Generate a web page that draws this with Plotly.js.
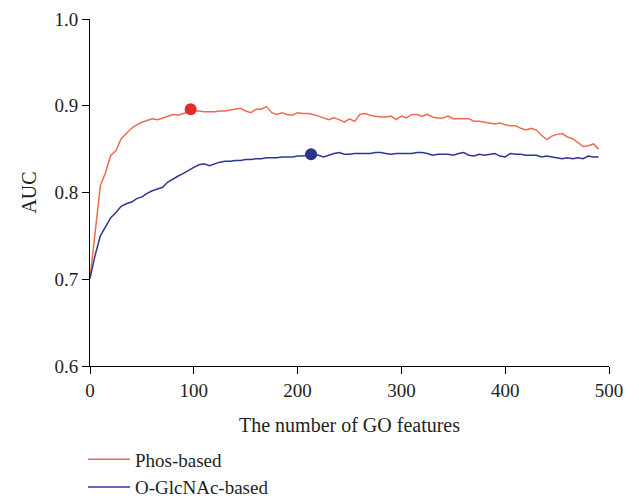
<!DOCTYPE html>
<html>
<head>
<meta charset="utf-8">
<script src="https://cdn.plot.ly/plotly-3.0.1.min.js"></script>
<style>html,body{margin:0;padding:0;background:#fff;}#chart{width:639px;height:500px;}</style>
</head>
<body>
<div id="chart"></div>
<script>
// Number of GO features (x), step 5
const features = [0,5,10,15,20,25,30,35,40,45,50,55,60,65,70,75,80,85,90,95,
  100,105,110,115,120,125,130,135,140,145,150,155,160,165,170,175,180,185,190,195,
  200,205,210,215,220,225,230,235,240,245,250,255,260,265,270,275,280,285,290,295,
  300,305,310,315,320,325,330,335,340,345,350,355,360,365,370,375,380,385,390,395,
  400,405,410,415,420,425,430,435,440,445,450,455,460,465,470,475,480,485,490];

const phosAUC = [0.701,0.758,0.808,0.823,0.843,0.848,0.862,0.868,0.874,0.878,0.881,0.883,0.885,0.884,0.886,0.888,0.890,0.889,0.891,0.894,
  0.894,0.894,0.893,0.893,0.893,0.894,0.894,0.895,0.896,0.897,0.894,0.892,0.896,0.896,0.899,0.892,0.890,0.892,0.890,0.889,
  0.892,0.891,0.891,0.890,0.888,0.886,0.884,0.886,0.884,0.881,0.885,0.882,0.890,0.891,0.889,0.888,0.887,0.887,0.888,0.884,
  0.888,0.886,0.890,0.890,0.888,0.890,0.887,0.886,0.886,0.888,0.885,0.885,0.885,0.885,0.882,0.882,0.881,0.880,0.879,0.880,
  0.878,0.877,0.877,0.874,0.872,0.874,0.872,0.866,0.861,0.865,0.867,0.868,0.864,0.862,0.858,0.853,0.854,0.856,0.850];

const glcAUC = [0.701,0.728,0.750,0.760,0.771,0.777,0.784,0.787,0.789,0.793,0.795,0.799,0.802,0.804,0.806,0.812,0.816,0.819,0.822,0.826,
  0.829,0.832,0.833,0.831,0.833,0.835,0.836,0.836,0.837,0.837,0.838,0.838,0.839,0.839,0.840,0.840,0.840,0.841,0.841,0.841,
  0.842,0.842,0.843,0.844,0.843,0.841,0.843,0.845,0.846,0.844,0.844,0.845,0.845,0.845,0.845,0.846,0.846,0.845,0.844,0.845,
  0.845,0.845,0.845,0.846,0.846,0.845,0.843,0.844,0.844,0.844,0.843,0.845,0.846,0.843,0.842,0.844,0.843,0.844,0.845,0.842,
  0.841,0.845,0.844,0.844,0.843,0.843,0.843,0.841,0.842,0.841,0.840,0.839,0.840,0.839,0.840,0.839,0.842,0.841,0.841];

// Best points (markers)
const phosBestX = [97];
const phosBestY = [0.896];
const glcBestX = [213];
const glcBestY = [0.844];

const seriesNames = ["Phos-based", "O-GlcNAc-based"];
const xTicks = [0,100,200,300,400,500];
const yTicks = [0.6,0.7,0.8,0.9,1.0];
const yTickText = ["0.6","0.7","0.8","0.9","1.0"];

const FONT = "Liberation Serif, Times New Roman, serif";
const TXT = "#231f20";

const traces = [
  {x: features, y: phosAUC, type: "scatter", mode: "lines", name: seriesNames[0],
   line: {color: "#EE6B52", width: 1.5}},
  {x: features, y: glcAUC, type: "scatter", mode: "lines", name: seriesNames[1],
   line: {color: "#2E3790", width: 1.5}},
  {x: phosBestX, y: phosBestY, type: "scatter", mode: "markers", showlegend: false,
   marker: {color: "#E22B2B", size: 12}},
  {x: glcBestX, y: glcBestY, type: "scatter", mode: "markers", showlegend: false,
   marker: {color: "#2B358C", size: 12}}
];

const layout = {
  width: 639, height: 500,
  margin: {l: 90, r: 30, t: 19, b: 134, autoexpand: false},
  paper_bgcolor: "#fff", plot_bgcolor: "#fff",
  font: {family: FONT, size: 19, color: TXT},
  showlegend: true,
  legend: {x: -0.0135, xanchor: "left", y: -0.2145, yanchor: "top", orientation: "v", itemwidth: 42,
    font: {family: FONT, size: 19, color: TXT}, bgcolor: "rgba(0,0,0,0)", tracegroupgap: 0},
  xaxis: {
    range: [0, 500], tickvals: xTicks, ticks: "outside", ticklen: 7, tickwidth: 1, tickcolor: "#000",
    showline: true, linecolor: "#000", linewidth: 1, showgrid: false, zeroline: false,
    tickfont: {family: FONT, size: 19, color: TXT},
    title: {text: "The number of GO features", font: {family: FONT, size: 20, color: TXT}, standoff: 18}
  },
  yaxis: {
    range: [0.6, 1.0], tickvals: yTicks, ticktext: yTickText, ticks: "outside", ticklen: 7, tickwidth: 1, tickcolor: "#000",
    showline: true, linecolor: "#000", linewidth: 1, showgrid: false, zeroline: false,
    tickfont: {family: FONT, size: 19, color: TXT},
    title: {text: "AUC", font: {family: FONT, size: 20, color: TXT}, standoff: 12}
  }
};

Plotly.newPlot("chart", traces, layout, {displayModeBar: false, staticPlot: true});
</script>
</body>
</html>
